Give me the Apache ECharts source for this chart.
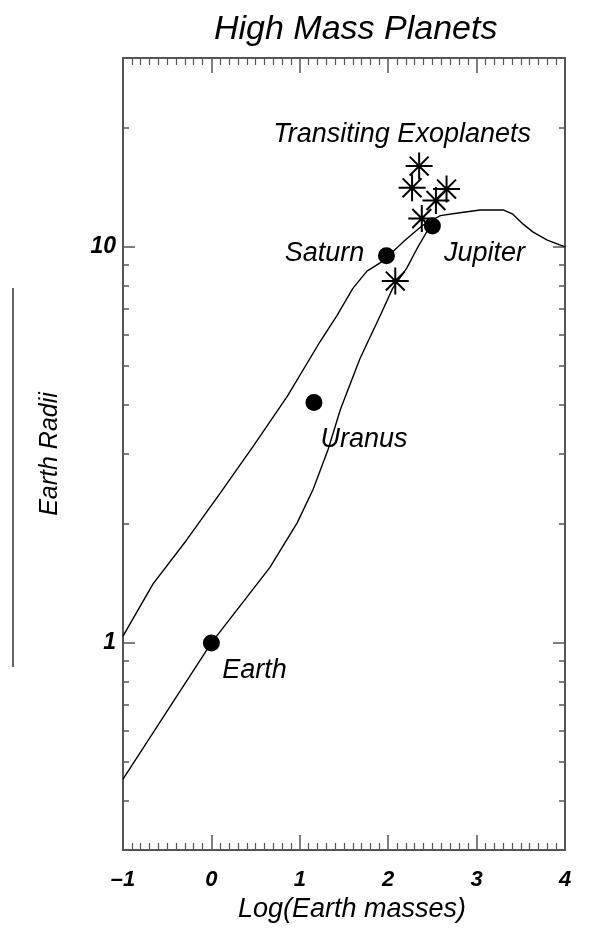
<!DOCTYPE html>
<html>
<head>
<meta charset="utf-8">
<script src="https://cdn.jsdelivr.net/npm/echarts@6/dist/echarts.min.js"></script>
<style>
  html, body { margin: 0; padding: 0; background: #fff; }
  #main { width: 598px; height: 929px; }
</style>
</head>
<body>
<div id="main"></div>
<script>
// planets (log mass in Earth masses, radius in Earth radii)
var planetNames = ['Earth', 'Uranus', 'Saturn', 'Jupiter'];
var planetLogMass = [0, 1.16, 1.98, 2.5];
var planetRadius = [1.0, 4.05, 9.5, 11.3];

// transiting exoplanets (asterisks)
var exoLogMass = [2.35, 2.27, 2.66, 2.54, 2.38, 2.08];
var exoRadius = [16.0, 14.1, 14.0, 13.1, 11.8, 8.2];

// model curves
var upperLogMass = [-1, -0.66, -0.28, 0.1, 0.47, 0.86, 1.23, 1.42, 1.6, 1.76, 1.94, 2.19, 2.38, 2.59, 2.81, 3.04, 3.3, 3.41, 3.53, 3.64, 3.8, 4.0];
var upperRadius = [1.04, 1.41, 1.82, 2.39, 3.13, 4.2, 5.77, 6.71, 7.86, 8.69, 9.21, 10.4, 11.3, 12.0, 12.2, 12.4, 12.4, 12.1, 11.4, 10.9, 10.4, 10.0];
var lowerLogMass = [-1, 0, 0.66, 0.97, 1.15, 1.32, 1.46, 1.68, 1.91, 2.05, 2.21, 2.33, 2.45];
var lowerRadius = [0.453, 1.0, 1.55, 2.01, 2.44, 3.08, 3.89, 5.22, 6.71, 7.86, 8.84, 9.94, 11.05];

// tick values
var xTicks = [-1, 0, 1, 2, 3, 4];
var yMajor = [1, 10];
var yMinor = [0.3, 0.4, 0.5, 0.6, 0.7, 0.8, 0.9, 2, 3, 4, 5, 6, 7, 8, 9, 20, 30];

// label offsets next to the planet dots
var planetLabelOffset = [[43, 28], [50, 37], [-62, -2], [52, 28]];

var font = 'Liberation Sans';
var frame = '#555';

function pairs(xs, ys) {
    return xs.map(function (x, i) { return [x, ys[i]]; });
}

var chart = echarts.init(document.getElementById('main'));

var xBase = {
    type: 'value',
    min: -1,
    max: 4,
    interval: 1,
    splitLine: { show: false },
    axisLine: { show: true, onZero: false, lineStyle: { color: frame, width: 2 } },
    axisTick: { show: true, inside: true, length: 15, lineStyle: { color: frame, width: 1.5 } },
    minorTick: { show: true, splitNumber: 10, length: 7, lineStyle: { color: frame, width: 1.2 } }
};

function yAxisDef(pos, ticks, len, withLabels, showLine) {
    return {
        type: 'log',
        logBase: 10,
        min: 0.3,
        max: 30,
        position: pos,
        splitLine: { show: false },
        axisLine: { show: showLine, onZero: false, lineStyle: { color: frame, width: 2 } },
        axisTick: { show: true, inside: true, length: len, customValues: ticks, lineStyle: { color: frame, width: 1.5 } },
        minorTick: { show: false },
        axisLabel: withLabels ? {
            show: true, customValues: yMajor, margin: 7,
            fontFamily: font, fontStyle: 'italic', fontWeight: 'bold', fontSize: 23, color: '#000'
        } : { show: false }
    };
}

var yLeft = yAxisDef('left', yMajor, 12, true, true);
yLeft.name = 'Earth Radii';
yLeft.nameLocation = 'middle';
yLeft.nameRotate = 90;
yLeft.nameGap = 60;
yLeft.nameTextStyle = { fontFamily: font, fontStyle: 'italic', fontSize: 25, color: '#000' };

var labelStyle = { fontFamily: font, fontStyle: 'italic', fontSize: 27, color: '#000', opacity: 1 };

var option = {
    backgroundColor: '#fff',
    animation: false,
    title: {
        text: 'High Mass Planets',
        left: 209,
        top: 8,
        textStyle: { fontFamily: font, fontStyle: 'italic', fontWeight: 'normal', fontSize: 34, color: '#000' }
    },
    grid: { left: 123, right: 33, top: 58, bottom: 79, containLabel: false },
    xAxis: [
        Object.assign({}, xBase, {
            position: 'bottom',
            name: 'Log(Earth masses)',
            nameLocation: 'middle',
            nameGap: 46,
            nameTextStyle: { fontFamily: font, fontStyle: 'italic', fontSize: 27, color: '#000', padding: [0, 0, 0, 16] },
            axisLabel: {
                show: true, margin: 19,
                fontFamily: font, fontStyle: 'italic', fontWeight: 'bold', fontSize: 22, color: '#000',
                formatter: function (v) { return v < 0 ? '\u2013' + Math.abs(v) : String(v); }
            }
        }),
        Object.assign({}, xBase, { position: 'top', axisLabel: { show: false } })
    ],
    yAxis: [
        yLeft,
        yAxisDef('left', yMinor, 6, false, false),
        yAxisDef('right', yMajor, 12, false, true),
        yAxisDef('right', yMinor, 6, false, false)
    ],
    graphic: [
        {
            type: 'line',
            shape: { x1: 13, y1: 288, x2: 13, y2: 667 },
            style: { stroke: '#333', lineWidth: 1.5 }
        }
    ],
    series: [
        {
            type: 'line',
            data: pairs(upperLogMass, upperRadius),
            showSymbol: false,
            symbol: 'none',
            lineStyle: { color: '#000', width: 1.4 },
            z: 2
        },
        {
            type: 'line',
            data: pairs(lowerLogMass, lowerRadius),
            showSymbol: false,
            symbol: 'none',
            lineStyle: { color: '#000', width: 1.4 },
            z: 2
        },
        {
            type: 'scatter',
            symbol: 'circle',
            symbolSize: 17,
            itemStyle: { color: '#000', opacity: 1 },
            data: planetNames.map(function (n, i) {
                return {
                    name: n,
                    value: [planetLogMass[i], planetRadius[i]],
                    label: Object.assign({
                        show: true,
                        formatter: n,
                        position: 'inside',
                        offset: planetLabelOffset[i]
                    }, labelStyle)
                };
            }),
            z: 3
        },
        {
            type: 'scatter',
            symbol: 'path://M0,10 L20,10 M10,0 L10,20 M3,3 L17,17 M3,17 L17,3',
            symbolSize: 27,
            itemStyle: { color: 'none', borderColor: '#000', borderWidth: 2, opacity: 1 },
            data: exoLogMass.map(function (x, i) {
                var d = { value: [x, exoRadius[i]] };
                if (i === 0) {
                    d.label = Object.assign({
                        show: true,
                        formatter: 'Transiting Exoplanets',
                        position: 'inside',
                        offset: [-17, -32]
                    }, labelStyle);
                }
                return d;
            }),
            z: 4
        }
    ]
};

chart.setOption(option);
</script>
</body>
</html>
